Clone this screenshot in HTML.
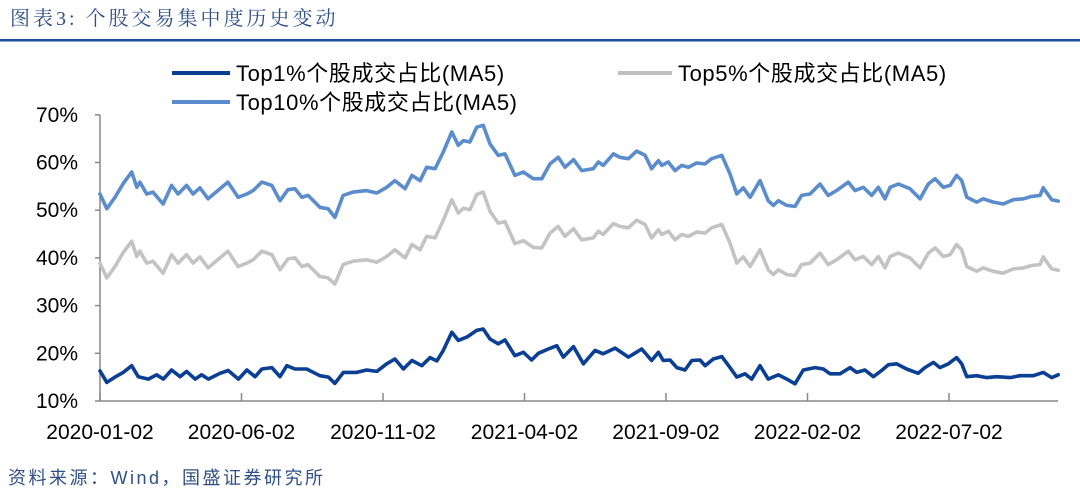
<!DOCTYPE html>
<html><head><meta charset="utf-8"><style>
body{margin:0;background:#fff;}
#c{position:relative;width:1080px;height:492px;overflow:hidden;font-family:"Liberation Sans","Noto Sans CJK SC",sans-serif;}
</style></head><body>
<div id="c">
<svg id="s" width="1080" height="492" xmlns="http://www.w3.org/2000/svg">
<text x="10" y="25" font-size="20" letter-spacing="3" fill="#2f4f86" font-family="Liberation Serif, Noto Serif CJK SC, serif">图表3: 个股交易集中度历史变动</text>
<rect x="0" y="39" width="1080" height="2.5" fill="#1f4e9a"/>
<g>
<line x1="172" y1="73" x2="230" y2="73" stroke="#0a3d91" stroke-width="4"/>
<text x="236" y="81" font-size="22" letter-spacing="0.6" fill="#000">Top1%个股成交占比(MA5)</text>
<line x1="618" y1="73" x2="672" y2="73" stroke="#c0c0c0" stroke-width="4"/>
<text x="678" y="81" font-size="22" letter-spacing="0.6" fill="#000">Top5%个股成交占比(MA5)</text>
<line x1="172" y1="102" x2="230" y2="102" stroke="#5b8ccc" stroke-width="4"/>
<text x="236" y="110" font-size="22" letter-spacing="0.6" fill="#000">Top10%个股成交占比(MA5)</text>
</g>
<g id="axes"></g>
<g id="series"></g>
<text x="8" y="484" font-size="18" letter-spacing="2.5" fill="#2f4f86">资料来源：Wind，国盛证券研究所</text>
</svg>
</div>
<script>
const yTicks=[10,20,30,40,50,60,70];
const xTickMonths=[0,5,10,15,20,25,30];
const xTickLabels=["2020-01-02","2020-06-02","2020-11-02","2021-04-02","2021-09-02","2022-02-02","2022-07-02"];
const t10=[0,.24,.53,.81,1.12,1.30,1.41,1.65,1.87,2.23,2.53,2.76,3.06,3.29,3.53,3.82,4.24,4.52,4.88,5.19,5.41,5.72,6.07,6.36,6.64,6.89,7.13,7.35,7.77,8.06,8.30,8.59,8.94,9.42,9.78,10.13,10.42,10.78,11.02,11.31,11.54,11.84,12.13,12.43,12.66,12.84,13.07,13.31,13.54,13.78,14.07,14.31,14.66,14.96,15.31,15.61,15.90,16.19,16.43,16.73,
17.02,17.43,17.61,17.78,18.14,18.37,18.67,18.96,19.26,19.49,19.73,19.85,20.08,20.32,20.55,20.79,21.08,21.38,21.61,21.97,22.26,22.50,22.73,22.97,23.32,23.61,23.79,23.97,24.27,24.56,24.79,25.09,25.44,25.73,26.03,26.44,26.68,26.97,27.27,27.50,27.74,27.92,28.21,28.62,28.98,29.27,29.51,29.80,30.04,30.27,30.45,30.63,30.98,31.21,31.57,31.92,32.27,32.63,32.92,33.22,33.33,33.63,33.86];
const top10=[53.4,50.3,52.7,55.5,58,54.8,55.9,53.4,53.8,51.3,55.2,53.4,55.2,53.4,54.7,52.4,54.5,55.9,52.7,53.4,54.1,55.9,55.2,52,54.3,54.5,52.7,53.1,50.6,50.3,48.5,53.1,53.8,54.1,53.6,54.8,56.2,54.5,57.3,56.2,59,58.7,62.2,66.4,63.6,64.6,64.3,67.4,67.8,63.9,61.5,61.8,57.3,58,56.6,56.6,59.7,61.1,59,60.6,
58.3,58.7,60.1,59.4,61.8,61.1,60.8,62.4,61.5,58.7,60.4,59.4,60.1,58.3,59.4,59,59.9,59.7,60.8,61.5,57.6,53.4,54.7,52.7,56.2,52,51,52,51,50.8,53.1,53.4,55.5,53.1,54.1,55.9,54.1,54.8,53.1,54.8,52.4,54.8,55.5,54.5,52.4,55.5,56.6,54.8,55.2,57.3,56.2,52.7,51.7,52.4,51.7,51.3,52.2,52.4,52.9,53.1,54.7,52.2,51.9];
const top5=[38.9,35.8,38.2,41,43.5,40.3,41.4,38.9,39.3,36.8,40.7,38.9,40.7,38.9,40.2,37.9,40,41.4,38.2,38.9,39.6,41.4,40.7,37.5,39.8,40,38.2,38.6,36.1,35.8,34.5,38.6,39.3,39.6,39.1,40.3,41.7,40,42.8,41.7,44.5,44.2,47.9,52.2,49.4,50.4,50.1,53.3,53.8,49.8,47.3,47.6,43,43.6,42.2,42.1,45.2,46.6,44.5,46.1,
43.8,44.2,45.6,44.9,47.2,46.6,46.3,47.9,47,44.2,45.9,44.9,45.6,43.8,44.9,44.5,45.4,45.2,46.3,47,43.1,38.9,40.2,38.2,41.7,37.5,36.5,37.5,36.5,36.3,38.6,38.9,41,38.6,39.6,41.4,39.6,40.3,38.6,40.3,37.9,40.3,41,40,37.9,41,42.1,40.3,40.7,42.8,41.7,38.2,37.2,37.9,37.2,36.8,37.7,37.9,38.4,38.6,40.2,37.7,37.4];
const t1=[0,.24,.53,.82,1.12,1.35,1.71,2.00,2.24,2.53,2.83,3.06,3.36,3.59,3.83,4.24,4.53,4.89,5.19,5.48,5.72,6.07,6.36,6.60,6.89,7.30,7.77,8.07,8.30,8.60,9.07,9.42,9.78,10.13,10.42,10.72,11.02,11.37,11.66,11.90,12.13,12.43,12.66,12.96,13.31,13.54,13.78,14.07,14.31,14.66,14.96,15.25,15.49,15.84,16.14,16.37,16.73,
17.08,17.49,17.78,18.20,18.67,19.14,19.49,19.73,19.90,20.14,20.38,20.67,20.91,21.20,21.38,21.67,21.97,22.26,22.50,22.79,23.03,23.32,23.61,23.97,24.27,24.56,24.85,25.27,25.56,25.80,26.15,26.50,26.74,27.03,27.33,27.62,27.86,28.15,28.50,28.91,29.15,29.45,29.68,29.98,30.27,30.45,30.63,30.98,31.33,31.69,32.16,32.51,32.98,33.33,33.63,33.86];
const top1=[16.3,13.9,15,16,17.4,15.1,14.6,15.5,14.6,16.5,15.1,16.2,14.6,15.5,14.6,15.8,16.4,14.6,16.5,15.1,16.7,17,15.1,17.4,16.7,16.7,15.3,15,13.7,16,16,16.5,16.2,17.8,18.8,16.7,18.5,17.4,19.1,18.4,20.6,24.4,22.7,23.4,24.8,25.1,23,22,22.8,19.5,20.2,18.6,20,20.9,21.6,19.2,21.4,
17.8,20.6,19.9,21.1,19.2,20.9,18.5,20.2,18.5,18.6,17,16.5,18.5,18.6,17.4,18.8,19.3,17,15,15.7,14.6,17.4,14.6,15.5,14.6,13.6,16.5,17,16.7,15.7,15.7,17,16,16.5,15.1,16.4,17.6,17.8,16.7,15.8,17,18.1,17,17.8,19.1,17.8,15.1,15.3,14.9,15.1,14.9,15.3,15.3,16,14.9,15.5];

const NS="http://www.w3.org/2000/svg";
const X0=100,XPM=28.3,Y0=401,YPP=4.77;
function xs(m){return X0+m*XPM;}
function ys(v){return Y0-(v-10)*YPP;}
const axes=document.getElementById('axes');
function mk(tag,attrs,parent){const e=document.createElementNS(NS,tag);for(const k in attrs)e.setAttribute(k,attrs[k]);parent.appendChild(e);return e;}
const ya=mk('line',{x1:X0,y1:ys(70),x2:X0,y2:Y0,stroke:'#888','stroke-width':1.5},axes);


const xa=mk('line',{x1:X0,y1:Y0,x2:1058,y2:Y0,stroke:'#888','stroke-width':1.5},axes);


yTicks.forEach(v=>{
  const tk=mk('line',{x1:X0-5,y1:ys(v),x2:X0,y2:ys(v),stroke:'#888','stroke-width':1.5},axes);
  
  
  const t=mk('text',{x:78,y:ys(v)+7,'font-size':21,'text-anchor':'end',fill:'#000'},axes);
  t.textContent=v+'%';
  
  
});
xTickMonths.forEach((m,i)=>{
  const tk=mk('line',{x1:xs(m),y1:Y0-8,x2:xs(m),y2:Y0,stroke:'#888','stroke-width':1.5},axes);
  
  
  const t=mk('text',{x:xs(m),y:439,'font-size':21,'text-anchor':'middle',fill:'#000'},axes);
  t.textContent=xTickLabels[i];
  
  
});
const sg=document.getElementById('series');
function line(ts,vs,color,name){
  const d=ts.map((t,i)=>(i?'L':'M')+xs(t).toFixed(1)+','+ys(vs[i]).toFixed(1)).join('');
  const p=mk('path',{d:d,fill:'none',stroke:color,'stroke-width':3.6,'stroke-linejoin':'round','stroke-linecap':'round'},sg);
  
  
}
line(t10,top5,'#c3c3c3','series-top5');
line(t10,top10,'#5b8ccc','series-top10');
line(t1,top1,'#0b3f93','series-top1');
</script>
</body></html>
